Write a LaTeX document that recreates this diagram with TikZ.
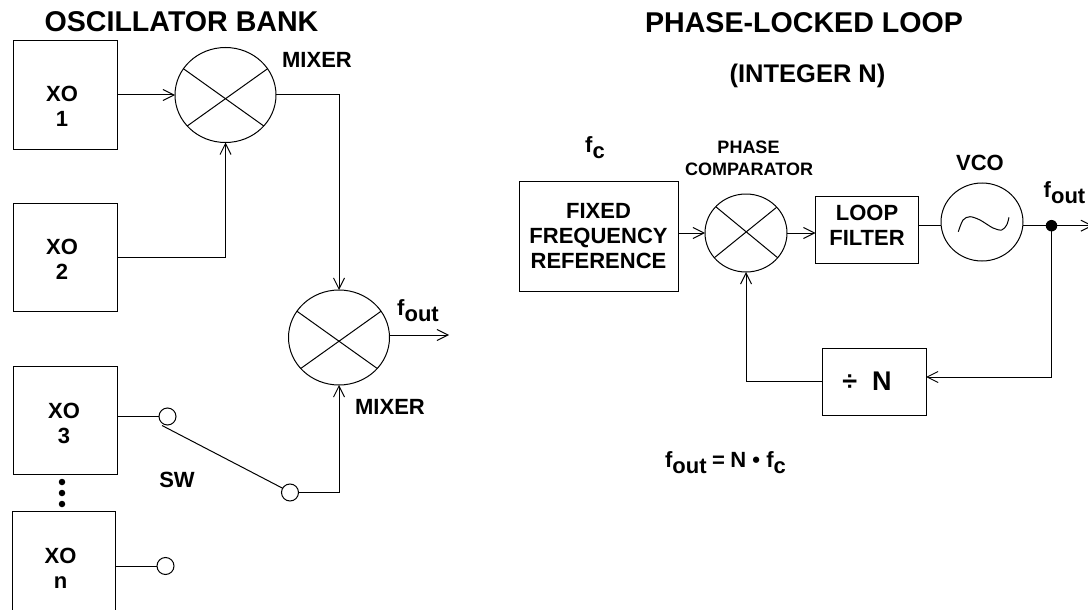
\documentclass[tikz,border=0pt]{standalone}
\usepackage{fontspec}
\setmainfont{Liberation Sans}
\usetikzlibrary{arrows.meta,shapes.geometric}
\newcommand{\lowsub}[1]{\raisebox{-.28em}{#1}}
\tikzset{
    >={Straight Barb[length=11pt,width=11pt]},
    line/.style={line width=1pt},
    block/.style={draw, line width=1pt, inner sep=0pt, outer sep=0pt, align=center,
        font=\bfseries\fontsize{22}{25}\selectfont},
    mixer/.style={draw, ellipse, line width=1pt, inner sep=0pt, outer sep=0pt},
    contact/.style={draw, circle, line width=1pt, minimum size=17pt, inner sep=0pt, outer sep=0pt},
    tag/.style={inner sep=0pt, align=center, font=\bfseries\fontsize{22}{25}\selectfont},
    title/.style={inner sep=0pt, font=\bfseries\fontsize{28.6}{32}\selectfont},
    dot/.style={fill, circle, minimum size=#1, inner sep=0pt, outer sep=0pt}
}
\begin{document}
\begin{tikzpicture}[x=1pt,y=-1pt]
    \path[use as bounding box, clip] (0,0) rectangle (1088,610);

    % Oscillator bank
    \node (bank) at (181.5,22) [title] {OSCILLATOR BANK};
    \node (xoa) at (65,95) [block, minimum width=104pt, minimum height=108pt] {};
    \node (xob) at (65,257) [block, minimum width=104pt, minimum height=108pt] {};
    \node (xoc) at (65,420) [block, minimum width=104pt, minimum height=108pt] {};
    \node (xod) at (63.5,565) [block, minimum width=103pt, minimum height=108pt] {};
    \node (xoatext) at (62,106.5) [tag] {XO\\1};
    \node (xobtext) at (62,259.5) [tag] {XO\\2};
    \node (xoctext) at (64,423.5) [tag] {XO\\3};
    \node (xodtext) at (60.5,568.5) [tag] {XO\\n};
    \node (dota) at (62,482) [dot=6.5pt] {};
    \node (dotb) at (62,493) [dot=6.5pt] {};
    \node (dotc) at (62,504) [dot=6.5pt] {};

    % Mixers
    \node (mixa) at (225.5,95) [mixer, minimum width=101pt, minimum height=95pt] {};
    \node (mixb) at (339,337.5) [mixer, minimum width=101pt, minimum height=95pt] {};
    \foreach \m in {mixa,mixb} {
        \draw[line] (\m.148) -- (\m.-39);
        \draw[line] (\m.32) -- (\m.219);
    }
    \node (mixlabela) at (317,60) [tag] {MIXER};
    \node (mixlabelb) at (390,407) [tag] {MIXER};

    % Switch
    \node (swa) at (167.5,416.5) [contact] {};
    \node (swb) at (290,492.5) [contact] {};
    \node (swc) at (165.5,566) [contact] {};
    \node (swlabel) at (177,480) [tag] {SW};
    \coordinate (armstart) at (162,425.5);
    \draw[line] (armstart) -- (swb.150);
    \draw[line] (xoc.east |- swa) -- (swa);
    \draw[line] (xod.east |- swc) -- (swc);

    % Connections of the bank
    \coordinate (bankout) at (449,335);
    \draw[line, ->] (xoa) -- (mixa);
    \draw[line, ->] (xob) -| (mixa);
    \draw[line, ->] (mixa) -| (mixb);
    \draw[line, ->] (swb) -| (mixb);
    \draw[line, ->] (mixb.east |- bankout) -- (bankout);
    \node (bankfout) at (418,311) [tag] {f\lowsub{out}};

    % Phase-locked loop
    \node (pll) at (804,22.5) [title] {PHASE-LOCKED LOOP};
    \node (integer) at (807.5,76) [tag, font=\bfseries\fontsize{25.5}{28}\selectfont] {(INTEGER N)};
    \node (ref) at (598.5,236) [block, minimum width=159pt, minimum height=110pt] {FIXED\\FREQUENCY\\REFERENCE};
    \node (comp) at (746,233) [mixer, minimum width=82pt, minimum height=78pt] {};
    \draw[line] (comp.139) -- (comp.-38);
    \draw[line] (comp.40) -- (comp.218);
    \node (filter) at (867,229.5) [block, minimum width=103pt, minimum height=67pt] {};
    \node (filtertext) at (867,225.5) [tag] {LOOP\\FILTER};
    \node (vco) at (982,222) [mixer, minimum width=82pt, minimum height=78pt] {};
    \draw[line] plot[smooth] coordinates {(958.3,231.7) (963,220) (970,216.7) (980,220) (993,228) (1001.7,230) (1006.7,225) (1009,217.3)};
    \node (divn) at (874,381.5) [block, minimum width=104pt, minimum height=67pt] {};
    \node (divtext) at (867,381.5) [tag, font=\bfseries\fontsize{27}{30}\selectfont] {÷\hspace{.55em}N};
    \node (tap) at (1051.5,225.7) [dot=11.5pt] {};
    \coordinate (pllout) at (1093,225.7);
    \node (fc) at (595,148) [tag] {f\lowsub{c}};
    \node (phase) at (748.5,147) [tag, font=\bfseries\fontsize{18}{22}\selectfont] {PHASE};
    \node (complabel) at (749,169) [tag, font=\bfseries\fontsize{18}{22}\selectfont] {COMPARATOR};
    \node (vcolabel) at (980,162.5) [tag] {VCO};
    \node (pllfout) at (1064.5,193) [tag] {f\lowsub{out}};
    \node (eqn) at (725.5,463) [tag] {f\lowsub{out}\hspace{.25em}=\hspace{.25em}N • f\lowsub{c}};

    % Connections of the loop
    \draw[line, ->] (ref.east |- comp) -- (comp);
    \draw[line, ->] (comp) -- (filter.west |- comp);
    \draw[line] (filter.east |- tap) -- (vco.west |- tap);
    \draw[line] (vco.east |- tap) -- (tap);
    \draw[line, ->] (tap) -- (pllout);
    \draw[line, ->] (tap) |- ([yshift=4.5pt]divn.east);
    \draw[line, ->] (divn) -| (comp);
\end{tikzpicture}
\end{document}
